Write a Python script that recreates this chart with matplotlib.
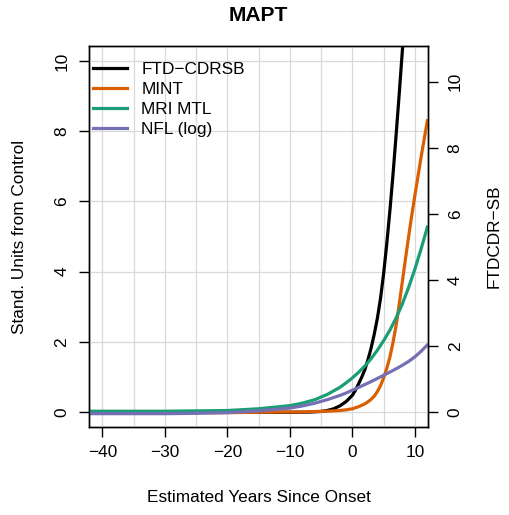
import matplotlib
matplotlib.use("Agg")
import matplotlib.pyplot as plt

plt.rcParams['font.family'] = ['Liberation Sans', 'DejaVu Sans']

# ---- data ----
years = [-42, -35, -30, -25, -20, -15, -10, -8, -6, -4, -2, -1, 0, 1, 2, 3, 4, 5, 6, 7, 8, 9, 10, 11, 12]
mri_mtl = [0.02, 0.02, 0.02, 0.03, 0.04, 0.09, 0.18, 0.25, 0.35, 0.5, 0.7, 0.83, 0.97, 1.13, 1.31, 1.52,
           1.76, 2.03, 2.33, 2.68, 3.08, 3.55, 4.07, 4.65, 5.27]
nfl_log = [-0.05, -0.05, -0.05, -0.04, -0.02, 0.03, 0.11, 0.17, 0.25, 0.35, 0.47, 0.54, 0.62, 0.7, 0.78, 0.865,
           0.955, 1.045, 1.135, 1.23, 1.33, 1.44, 1.57, 1.73, 1.91]

mint_years = [-42, -30, -20, -15, -10, -8, -6, -4, -2, -1, 0, 1, 2, 2.5, 3, 3.5, 4, 4.5, 5, 5.5, 6, 6.5,
              7, 7.5, 8, 8.5, 9, 9.5, 10, 11, 12]
mint = [-0.02, -0.02, -0.02, -0.01, 0.0, 0.0, 0.01, 0.02, 0.04, 0.06, 0.09, 0.15, 0.23, 0.29, 0.36, 0.45,
        0.58, 0.75, 0.97, 1.24, 1.56, 1.98, 2.47, 3.08, 3.72, 4.37, 5.0, 5.6, 6.17, 7.27, 8.3]

cdr_years = [-42, -30, -20, -10, -7, -5, -4, -3, -2, -1, 0, 0.5, 1, 1.5, 2, 2.5, 3, 3.5, 4, 4.5, 5, 5.5,
             6, 6.5, 7, 7.5, 8, 8.5]
ftd_cdrsb = [0, 0, 0, 0.005, 0.01, 0.03, 0.06, 0.11, 0.2, 0.33, 0.52, 0.68, 0.87, 1.07, 1.3, 1.6, 1.95,
             2.37, 2.85, 3.45, 4.2, 5.1, 6.1, 7.2, 8.4, 9.65, 10.95, 12.25]

labels = ["FTD\u2212CDRSB", "MINT", "MRI MTL", "NFL (log)"]
colors = ["#000000", "#D95F02", "#1B9E77", "#7570B3"]

xticks = [-40, -30, -20, -10, 0, 10]
xgrid = [-40, -35, -30, -25, -20, -15, -10, -5, 0, 5, 10]
yticks = [0, 2, 4, 6, 8, 10]

# ---- figure ----
W, H = 509, 515
fig = plt.figure(figsize=(W / 100, H / 100), dpi=100)
L, R, T, B = 89, 428, 46, 427
ax = fig.add_axes([L / W, 1 - B / H, (R - L) / W, (B - T) / H])
ax2 = ax.twinx()

ax.set_xlim(-42.16, 12.1)
ax.set_ylim(-0.43, 10.43)
ax2.set_ylim(-0.44, 11.08)

ax.set_zorder(ax2.get_zorder() + 1)
ax.patch.set_visible(False)

lw = 2.3
ax.plot(cdr_years, ftd_cdrsb, color=colors[0], lw=lw, label=labels[0], transform=ax2.transData)
ax.plot(mint_years, mint, color=colors[1], lw=lw, label=labels[1])
ax.plot(years, mri_mtl, color=colors[2], lw=lw, label=labels[2])
ax.plot(years, nfl_log, color=colors[3], lw=lw, label=labels[3])

# grid
for g in xgrid:
    ax.axvline(g, color='#d9d9d9', lw=0.9, zorder=0)
for g in yticks:
    ax.axhline(g, color='#d9d9d9', lw=0.9, zorder=0)

fs = 12.4
ax.set_xticks(xticks)
ax.set_xticklabels([f"{v}".replace('-', '\u2212') for v in xticks])
ax.set_yticks(yticks)
ax.set_yticklabels([str(v) for v in yticks], rotation=90, va='center')
ax2.set_yticks(yticks)
ax2.set_yticklabels([str(v) for v in yticks], rotation=90, va='center')

ax.tick_params(axis='x', length=7.2, width=1.0, pad=6, labelsize=fs)
ax.tick_params(axis='y', length=7.2, width=1.0, pad=7, labelsize=fs)
ax2.tick_params(axis='y', length=7.2, width=1.0, pad=7, labelsize=fs)

for a in (ax, ax2):
    for s in a.spines.values():
        s.set_linewidth(1.0)

ax.set_xlabel("Estimated Years Since Onset", fontsize=fs)
ax.xaxis.set_label_coords(0.5, -(497.5 - B) / (B - T))
ax.set_ylabel("Stand. Units from Control", fontsize=fs)
ax.yaxis.set_label_coords(-(L - 20) / (R - L), 0.5)
ax2.set_ylabel("FTDCDR\u2212SB", fontsize=fs)
ax2.yaxis.set_label_coords(1 + (494 - R) / (R - L), 0.5)
ax.xaxis.label.set_va('center')
ax.yaxis.label.set_va('center')
ax2.yaxis.label.set_va('center')

fig.text((L + R) / 2 / W, 1 - 15.5 / H, "MAPT", fontsize=15.1, fontweight='bold', ha='center', va='center')

leg = ax.legend(loc='upper left', bbox_to_anchor=((93 - L) / (R - L), (B - 61.5) / (B - T)),
                frameon=False, fontsize=fs, handlelength=2.0, handletextpad=0.8, labelspacing=0.3,
                borderpad=0, borderaxespad=0)
for h in leg.get_lines():
    h.set_linewidth(2.3)

fig.savefig("out.png", dpi=100)
